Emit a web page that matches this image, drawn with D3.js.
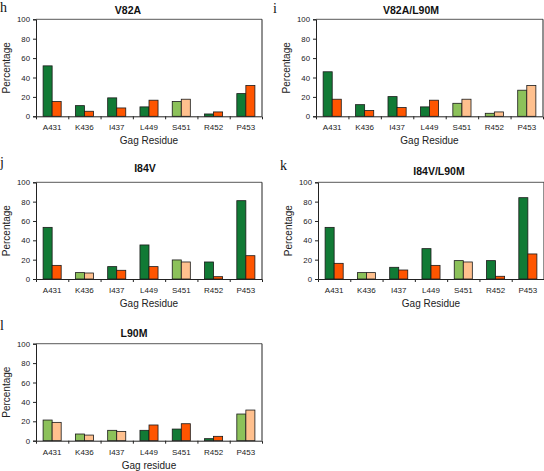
<!DOCTYPE html>
<html><head><meta charset="utf-8">
<script src="https://cdn.jsdelivr.net/npm/d3@7"></script>
<style>body{margin:0;background:#fff}svg{display:block}</style>
</head><body>
<svg id="c" width="544" height="471"></svg>
<script>
const categories = ["A431","K436","I437","L449","S451","R452","P453"];
const yTicks = [0,20,40,60,80,100];

const hGreen  = [52, 11, 19, 9.7, 15.2, 2.4, 23.4];
const hOrange = [15.2, 5.2, 8.6, 16.6, 17.6, 4.5, 31.7];
const hShade  = ["d","d","d","d","l","d","d"];

const iGreen  = [45.9, 12, 20.3, 9.7, 13.4, 3.1, 26.9];
const iOrange = [17.6, 5.9, 9, 16.6, 17.6, 4.5, 31.7];
const iShade  = ["d","d","d","d","l","l","l"];

const jGreen  = [53.4, 6.6, 12.8, 35.2, 19.7, 17.6, 81];
const jOrange = [14.1, 6.2, 9, 12.8, 17.6, 2.4, 24.1];
const jShade  = ["d","l","d","d","l","d","d"];

const kGreen  = [53.4, 6.6, 12.1, 31.4, 19, 19, 84.1];
const kOrange = [16.2, 6.6, 9.3, 14.1, 17.6, 2.8, 25.9];
const kShade  = ["d","l","d","d","l","d","d"];

const lGreen  = [21.3, 6.9, 10.7, 10.7, 12, 2.1, 27.5];
const lOrange = [18.9, 5.8, 9.6, 16.2, 17.5, 4.5, 31.6];
const lShade  = ["l","l","l","d","d","d","l"];

const titles = {h:"V82A", i:"V82A/L90M", j:"I84V", k:"I84V/L90M", l:"L90M"};
const xTitles = {h:"Gag Residue", i:"Gag Residue", j:"Gag Residue", k:"Gag Residue", l:"Gag residue"};

const colors = {gd:"#117a35", gl:"#8cc15a", od:"#ff5500", ol:"#ffc08e"};

const layout = {
  h:{x0:36, x1:262, y0:19.3, y1:116.3, lx:0, ly:12, tx:128, ty:14, ylx:7},
  i:{x0:316, x1:543, y0:19.3, y1:116.3, lx:273, ly:13, tx:411, ty:14, ylx:287},
  j:{x0:36, x1:262, y0:182.3, y1:279, lx:0, ly:167, tx:145, ty:172, ylx:7},
  k:{x0:318, x1:544, y0:182.3, y1:279, lx:280, ly:170, tx:439, ty:175, ylx:289},
  l:{x0:36, x1:262, y0:343.7, y1:440.7, lx:0, ly:330, tx:134, ty:337, ylx:7}
};
const panelData = {
  h:[hGreen,hOrange,hShade], i:[iGreen,iOrange,iShade], j:[jGreen,jOrange,jShade],
  k:[kGreen,kOrange,kShade], l:[lGreen,lOrange,lShade]
};

const svg = d3.select("#c");
const font = "Liberation Sans, Arial, sans-serif";

Object.keys(layout).forEach(key => {
  const L = layout[key];
  const [g1, g2, shade] = panelData[key];
  const x0 = d3.scaleBand().domain(categories).range([L.x0, L.x1]).paddingInner(0.44).paddingOuter(0.22);
  const x1 = d3.scaleBand().domain([0,1]).range([0, x0.bandwidth()]);
  const y = d3.scaleLinear().domain([0,100]).range([L.y1, L.y0]);
  const g = svg.append("g");

  g.append("line").attr("x1",L.x0).attr("x2",L.x1).attr("y1",L.y0).attr("y2",L.y0).attr("stroke","#7a7a7a").attr("stroke-width",1.2);
  g.append("line").attr("x1",L.x1).attr("x2",L.x1).attr("y1",L.y0).attr("y2",L.y1).attr("stroke","#222").attr("stroke-width",1);

  const rows = categories.map((c,i)=>({c, v:[g1[i], g2[i]], s:shade[i]}));
  rows.forEach(r => {
    r.v.forEach((v,j) => {
      const col = j===0 ? (r.s==="d"?colors.gd:colors.gl) : (r.s==="d"?colors.od:colors.ol);
      g.append("rect")
        .attr("x", x0(r.c)+x1(j)).attr("width", x1.bandwidth())
        .attr("y", y(v)).attr("height", y(0)-y(v))
        .attr("fill", col).attr("stroke","#1a1a1a").attr("stroke-width",0.8);
    });
  });

  const ya = d3.axisLeft(y).tickValues(yTicks).tickSize(3).tickPadding(3);
  const yg = g.append("g").attr("transform",`translate(${L.x0},0)`).call(ya);
  yg.select(".domain").attr("stroke","#222");
  yg.selectAll(".tick line").attr("stroke","#222");
  yg.selectAll("text").attr("font-family",font).attr("font-size",7.8).attr("fill","#222");

  const xb = d3.scaleLinear().domain([0,7]).range([L.x0, L.x1]);
  const xa = d3.axisBottom(xb).tickValues([1,2,3,4,5,6]).tickSize(3).tickFormat("");
  const xg = g.append("g").attr("transform",`translate(0,${L.y1})`).call(xa);
  xg.select(".domain").attr("stroke","#222");
  xg.selectAll(".tick line").attr("stroke","#222");
  categories.forEach(c => {
    g.append("text").attr("x", x0(c)+x0.bandwidth()/2).attr("y", L.y1+14)
      .attr("text-anchor","middle").attr("font-family",font).attr("font-size",8).attr("fill","#222").text(c);
  });

  g.append("text").attr("x",(L.x0+L.x1)/2).attr("y",L.y1+28).attr("text-anchor","middle")
    .attr("font-family",font).attr("font-size",10).attr("fill","#222").text(xTitles[key]);
  g.append("text").attr("transform",`translate(${L.ylx+3},${(L.y0+L.y1)/2}) rotate(-90)`)
    .attr("text-anchor","middle").attr("font-family",font).attr("font-size",10).attr("fill","#222").text("Percentage");

  g.append("text").attr("x",L.tx).attr("y",L.ty).attr("text-anchor","middle")
    .attr("font-family",font).attr("font-weight","bold").attr("font-size",10.5).attr("fill","#111").text(titles[key]);
  g.append("text").attr("x",L.lx).attr("y",L.ly).attr("font-family","Liberation Serif, Times New Roman, serif")
    .attr("font-size",14).attr("fill","#111").text(key);
});
</script>
</body></html>
